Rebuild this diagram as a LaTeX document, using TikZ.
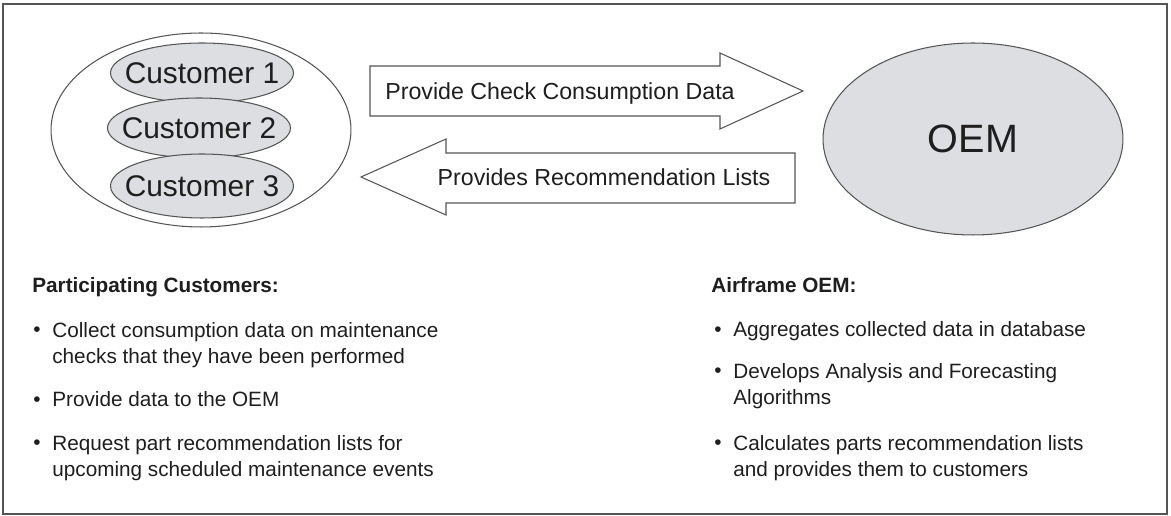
\documentclass[tikz,border=0pt]{standalone}
\usepackage{fontspec}
\setmainfont{Liberation Sans}
\usepackage{tikz}
\usetikzlibrary{shapes.geometric}

\definecolor{ovalgray}{RGB}{221,222,226}
\definecolor{linegray}{RGB}{85,85,85}
\definecolor{textdark}{RGB}{30,30,30}

\begin{document}
\begin{tikzpicture}[x=0.02cm, y=-0.02cm, text=textdark,
            oval/.style={ellipse, draw=linegray, line width=0.6pt, inner sep=0pt},
            custoval/.style={oval, fill=ovalgray, minimum width=3.66cm, minimum height=1.2cm},
            custlabel/.style={font=\fontsize{17}{20}\selectfont, inner sep=0pt},
            blockarrow/.style={draw=linegray, line width=0.6pt, fill=white},
            arrowtext/.style={font=\fontsize{13.2}{15}\selectfont, anchor=base, inner sep=0pt},
            heading/.style={font=\bfseries\fontsize{11.8}{15.2}\selectfont, anchor=base west, inner sep=0pt},
            item/.style={font=\fontsize{11.8}{15.2}\selectfont, anchor=base west, align=left, inner sep=0pt},
            dot/.style={font=\fontsize{11.8}{15.2}\selectfont, anchor=base west, inner sep=0pt}]
            % Frame
            \useasboundingbox (0,0) rectangle (1171,516);
            \draw[linegray, line width=1.1pt] (3,4) rectangle (1167,514);

            % Customers
            \node[oval, minimum width=6cm, minimum height=3.88cm] (group) at (201,130) {};
            \node[custoval, label={[custlabel]center:Customer 1}] (cust1) at (202,73) {};
            \node[custoval, label={[custlabel]center:Customer 2}] (cust2) at (199,128) {};
            \node[custoval, minimum height=1.28cm, label={[custlabel]center:Customer 3}] (cust3) at (202,186) {};

            % OEM
            \node[oval, fill=ovalgray, minimum width=6cm, minimum height=3.84cm,
                  font=\fontsize{22.5}{26}\selectfont] (oem) at (973,139) {OEM};

            % Block arrows
            \draw[blockarrow] (370,66) -- (720,66) -- (720,53) -- (803,91) -- (720,129)
                -- (720,116) -- (370,116) -- cycle;
            \draw[blockarrow] (361,177) -- (446,139) -- (446,153) -- (795,153) -- (795,203)
                -- (446,203) -- (446,215) -- cycle;
            \node[arrowtext] (sendlabel) at (560,100) {Provide Check Consumption Data};
            \node[arrowtext] (backlabel) at (604,186) {Provides Recommendation Lists};

            % Customer tasks (base of a two-line item is its last line)
            \node[heading] (custhead) at (32,293) {Participating Customers:};
            \node[dot] (cdot1) at (33,337) {\textbullet};
            \node[item] (citem1) at (52,364) {Collect consumption data on maintenance\\checks that they have been performed};
            \node[dot] (cdot2) at (33,407) {\textbullet};
            \node[item] (citem2) at (52,407) {Provide data to the OEM};
            \node[dot] (cdot3) at (33,450) {\textbullet};
            \node[item] (citem3) at (52,477) {Request part recommendation lists for\\upcoming scheduled maintenance events};

            % OEM tasks
            \node[heading] (oemhead) at (711,293) {Airframe OEM:};
            \node[dot] (odot1) at (714,337) {\textbullet};
            \node[item] (oitem1) at (733,337) {Aggregates collected data in database};
            \node[dot] (odot2) at (714,378) {\textbullet};
            \node[item] (oitem2) at (733,405) {Develops Analysis and Forecasting\\Algorithms};
            \node[dot] (odot3) at (714,450) {\textbullet};
            \node[item] (oitem3) at (733,477) {Calculates parts recommendation lists\\and provides them to customers};
        \end{tikzpicture}
\end{document}
